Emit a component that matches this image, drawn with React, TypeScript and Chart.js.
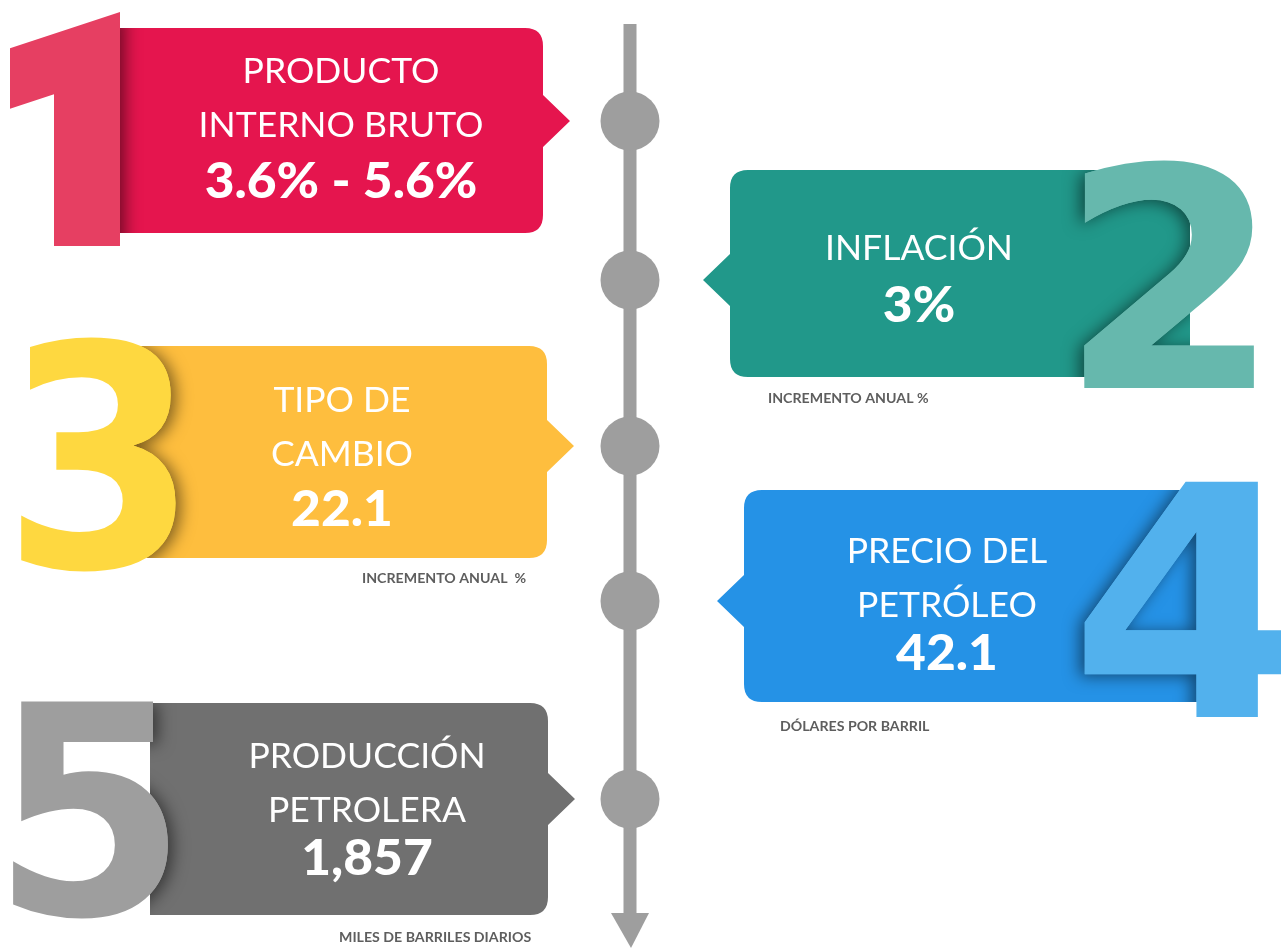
import React, { useEffect, useRef } from "react";
import { Chart, registerables } from "chart.js";

Chart.register(...registerables);

// ---- content ----
const STEPS = ["1", "2", "3", "4", "5"];
const TITLES = [
  ["PRODUCTO", "INTERNO BRUTO"],
  ["INFLACIÓN"],
  ["TIPO DE", "CAMBIO"],
  ["PRECIO DEL", "PETRÓLEO"],
  ["PRODUCCIÓN", "PETROLERA"],
];
const VALUES = ["3.6% - 5.6%", "3%", "22.1", "42.1", "1,857"];
const UNITS = ["", "INCREMENTO ANUAL %", "INCREMENTO ANUAL  %", "DÓLARES POR BARRIL", "MILES DE BARRILES DIARIOS"];
const BOX_COLORS = ["#E5154E", "#21988A", "#FEBE3E", "#2592E6", "#707070"];
const NUM_COLORS = ["#E63F62", "#66B8AD", "#FED840", "#52B1ED", "#9E9E9E"];

// ---- layout (page pixels) ----
const W = 1281;
const H = 948;
const LINE_X = 630;
const STEP_Y = [121, 280, 446, 601, 799];
type Lay = {
  box: [number, number, number, number];
  side: "left" | "right";
  num: [number, number, number, number];
  cx: number;
  titleY: number[];
  valueY: number;
  unit: [number, number];
};
const LAYOUT: Lay[] = [
  { box: [120, 543, 28, 233], side: "right", num: [10, 12, 120, 246], cx: 341, titleY: [83, 137], valueY: 198, unit: [0, 0] },
  { box: [730, 1190, 170, 377], side: "left", num: [1084, 158, 1254, 388], cx: 919, titleY: [260], valueY: 322, unit: [768, 403] },
  { box: [130, 547, 346, 558], side: "right", num: [20, 335, 178, 572], cx: 342, titleY: [412, 466], valueY: 526, unit: [362, 583] },
  { box: [744, 1200, 490, 702], side: "left", num: [1080, 480, 1296, 717], cx: 947, titleY: [563, 617], valueY: 670, unit: [780, 731] },
  { box: [150, 548, 703, 915], side: "right", num: [9, 700, 172, 919], cx: 367, titleY: [768, 822], valueY: 875, unit: [339, 942] },
];

function boxPath(ctx: CanvasRenderingContext2D, L: Lay, py: number, X: (v: number) => number, Y: (v: number) => number) {
  const [a, b, c, d] = L.box;
  const x0 = X(a), x1 = X(b), y0 = Y(c), y1 = Y(d);
  const r = 18;
  const ph = 26, pd = 27;
  ctx.beginPath();
  if (L.side === "right") {
    ctx.moveTo(x0, y0);
    ctx.lineTo(x1 - r, y0);
    ctx.quadraticCurveTo(x1, y0, x1, y0 + r);
    ctx.lineTo(x1, py - ph);
    ctx.lineTo(x1 + pd, py);
    ctx.lineTo(x1, py + ph);
    ctx.lineTo(x1, y1 - r);
    ctx.quadraticCurveTo(x1, y1, x1 - r, y1);
    ctx.lineTo(x0, y1);
    ctx.closePath();
  } else {
    ctx.moveTo(x1, y0);
    ctx.lineTo(x0 + r, y0);
    ctx.quadraticCurveTo(x0, y0, x0, y0 + r);
    ctx.lineTo(x0, py - ph);
    ctx.lineTo(x0 - pd, py);
    ctx.lineTo(x0, py + ph);
    ctx.lineTo(x0, y1 - r);
    ctx.quadraticCurveTo(x0, y1, x0 + r, y1);
    ctx.lineTo(x1, y1);
    ctx.closePath();
  }
}

function drawNumeral(ctx: CanvasRenderingContext2D, i: number, L: Lay, X: (v: number) => number, Y: (v: number) => number) {
  const [a, b, c, d] = L.num;
  const x0 = X(a), y0 = Y(b), x1 = X(c), y1 = Y(d);
  if (i === 0) {
    // flag-shaped "1"
    const w = x1 - x0, h = y1 - y0;
    ctx.beginPath();
    ctx.moveTo(x0, y0 + h * 0.155);
    ctx.lineTo(x1, y0);
    ctx.lineTo(x1, y1);
    ctx.lineTo(x0 + w * 0.4, y1);
    ctx.lineTo(x0 + w * 0.4, y0 + h * 0.352);
    ctx.lineTo(x0, y0 + h * 0.413);
    ctx.closePath();
    ctx.fill();
    return;
  }
  ctx.font = "bold 300px 'DejaVu Sans', sans-serif";
  ctx.textAlign = "left";
  ctx.textBaseline = "alphabetic";
  const m = ctx.measureText(STEPS[i]);
  const gl = m.actualBoundingBoxLeft, gr = m.actualBoundingBoxRight;
  const ga = m.actualBoundingBoxAscent, gd = m.actualBoundingBoxDescent;
  const sx = (x1 - x0) / (gl + gr);
  const sy = (y1 - y0) / (ga + gd);
  ctx.save();
  ctx.translate(x0 + gl * sx, y0 + ga * sy);
  ctx.scale(sx, sy);
  ctx.fillText(STEPS[i], 0, 0);
  ctx.restore();
}

function stretchedText(ctx: CanvasRenderingContext2D, text: string, x: number, y: number, sx: number) {
  ctx.save();
  ctx.translate(x, y);
  ctx.scale(sx, 1);
  ctx.fillText(text, 0, 0);
  ctx.restore();
}

const infographic = {
  id: "infographic",
  beforeDatasetsDraw(chart: any) {
    const ctx: CanvasRenderingContext2D = chart.ctx;
    const xs = chart.scales.x, ys = chart.scales.y;
    const X = (v: number) => xs.getPixelForValue(v);
    const Y = (v: number) => ys.getPixelForValue(v);
    ctx.save();
    ctx.fillStyle = "#ffffff";
    ctx.fillRect(0, 0, chart.width, chart.height);

    // timeline
    ctx.fillStyle = "#9E9E9E";
    ctx.fillRect(X(LINE_X) - 6.5, Y(24), 13, Y(915) - Y(24));
    ctx.beginPath();
    ctx.moveTo(X(LINE_X - 19), Y(913));
    ctx.lineTo(X(LINE_X + 19), Y(913));
    ctx.lineTo(X(LINE_X + 1), Y(948));
    ctx.closePath();
    ctx.fill();

    LAYOUT.forEach((L, i) => {
      const py = Y(STEP_Y[i]);
      // box
      ctx.fillStyle = BOX_COLORS[i];
      boxPath(ctx, L, py, X, Y);
      ctx.fill();
      // numeral shadow clipped to box
      ctx.save();
      boxPath(ctx, L, py, X, Y);
      ctx.clip();
      ctx.shadowColor = "rgba(0,0,0,0.5)";
      ctx.shadowBlur = 16;
      ctx.shadowOffsetX = L.side === "right" ? 5 : -5;
      ctx.shadowOffsetY = 2;
      ctx.fillStyle = NUM_COLORS[i];
      drawNumeral(ctx, i, L, X, Y);
      ctx.restore();
      // numeral
      ctx.fillStyle = NUM_COLORS[i];
      drawNumeral(ctx, i, L, X, Y);

      // texts
      ctx.fillStyle = "#ffffff";
      ctx.textAlign = "center";
      ctx.textBaseline = "alphabetic";
      ctx.font = "400 35.5px Lato, 'Open Sans', sans-serif";
      TITLES[i].forEach((t, k) => ctx.fillText(t, X(L.cx), Y(L.titleY[k])));
      ctx.font = "900 49px Lato, 'Open Sans', sans-serif";
      stretchedText(ctx, VALUES[i], X(L.cx), Y(L.valueY), 1.05);
      if (UNITS[i]) {
        ctx.fillStyle = "#5E5E5E";
        ctx.textAlign = "left";
        ctx.font = "700 13px Lato, 'Open Sans', sans-serif";
        stretchedText(ctx, UNITS[i], X(L.unit[0]), Y(L.unit[1]), 1.09);
      }
    });
    ctx.restore();
  },
};

export default function App() {
  const ref = useRef<HTMLCanvasElement | null>(null);
  useEffect(() => {
    document.body.style.margin = "0";
    if (!ref.current) return;
    const chart = new Chart(ref.current, {
      type: "scatter",
      data: {
        datasets: [
          {
            label: "Etapas",
            data: STEP_Y.map((y) => ({ x: LINE_X, y })),
            pointRadius: 29.5,
            pointHoverRadius: 29.5,
            backgroundColor: "#9E9E9E",
            borderWidth: 0,
            clip: false,
          },
        ],
      },
      options: {
        animation: false,
        responsive: true,
        maintainAspectRatio: false,
        devicePixelRatio: 1,
        events: [],
        layout: { padding: 0, autoPadding: false },
        plugins: { legend: { display: false }, tooltip: { enabled: false } },
        scales: {
          x: { type: "linear", min: 0, max: W, display: false },
          y: { type: "linear", min: 0, max: H, reverse: true, display: false },
        },
      },
      plugins: [infographic],
    });
    return () => chart.destroy();
  }, []);
  return (
    <div style={{ position: "absolute", left: 0, top: 0, width: W, height: H, background: "#fff" }}>
      <canvas ref={ref} />
    </div>
  );
}
